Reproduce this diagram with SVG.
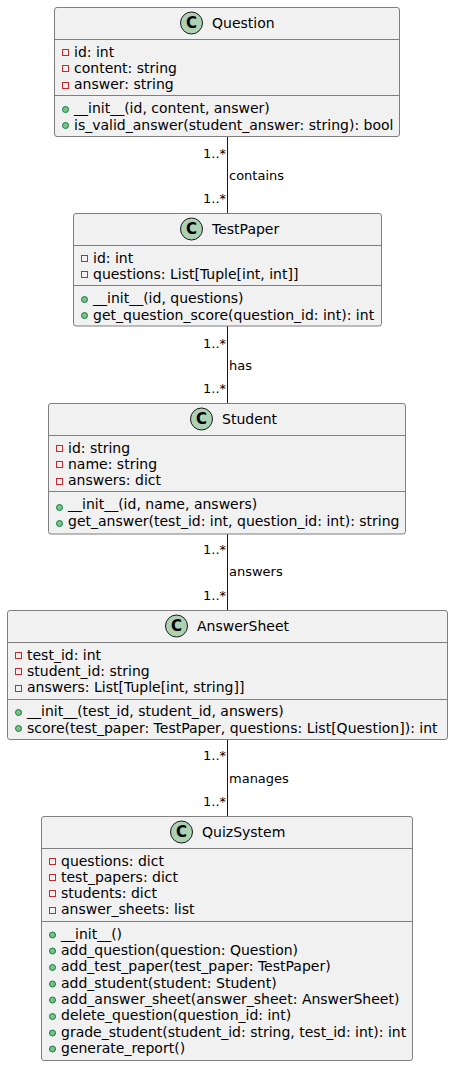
<svg xmlns="http://www.w3.org/2000/svg" width="453" height="1066" viewBox="0 0 453 1066">
<style>
text{font-family:"DejaVu Sans",sans-serif;font-size:14px;fill:#000}
.l{font-size:13px}
.box{fill:#F1F1F1;stroke:#7F7F7F;stroke-width:.5;stroke-width:1}
.sep{stroke:#7F7F7F;stroke-width:1}
.ci{fill:#ADD1B2;stroke:#181818;stroke-width:1}
.c{font-weight:bold;font-size:15px;text-anchor:middle}
.pv{fill:none;stroke:#C82930;stroke-width:1}
.pb{fill:#84BE84;stroke:#038048;stroke-width:1}
.conn{stroke:#181818;stroke-width:1;fill:none}
</style>
<g id="connectors">
<line class="conn" x1="227.5" y1="136" x2="227.5" y2="213"/>
<line class="conn" x1="227.5" y1="326" x2="227.5" y2="403"/>
<line class="conn" x1="227.5" y1="534" x2="227.5" y2="610"/>
<line class="conn" x1="227.5" y1="739" x2="227.5" y2="816"/>
<text class="l" x="229" y="180">contains</text><text class="l" x="203" y="158">1..*</text><text class="l" x="203" y="203">1..*</text>
<text class="l" x="229" y="370">has</text><text class="l" x="203" y="348">1..*</text><text class="l" x="203" y="393">1..*</text>
<text class="l" x="229" y="576">answers</text><text class="l" x="203" y="554">1..*</text><text class="l" x="203" y="600">1..*</text>
<text class="l" x="229" y="783">manages</text><text class="l" x="203" y="760">1..*</text><text class="l" x="203" y="806">1..*</text>
</g>
<g id="Question">
<rect class="box" x="54.5" y="7.5" width="345" height="129" rx="2.5"/>
<circle class="ci" cx="191.5" cy="23" r="11"/><text class="c" x="191.5" y="28">C</text>
<text x="212" y="28">Question</text>
<line class="sep" x1="54.5" y1="39.5" x2="399.5" y2="39.5"/>
<rect class="pv" x="62.5" y="49.5" width="6" height="6"/><text x="74" y="56.5">id: int</text>
<rect class="pv" x="62.5" y="65.5" width="6" height="6"/><text x="74" y="72.5">content: string</text>
<rect class="pv" x="62.5" y="82.5" width="6" height="6"/><text x="74" y="89">answer: string</text>
<line class="sep" x1="54.5" y1="95.5" x2="399.5" y2="95.5"/>
<circle class="pb" cx="65.5" cy="109.5" r="3"/><text x="74" y="113">__init__(id, content, answer)</text>
<circle class="pb" cx="65.5" cy="125.5" r="3"/><text x="74" y="129.5">is_valid_answer(student_answer: string): bool</text>
</g>
<g id="TestPaper">
<rect class="box" x="73.5" y="213.5" width="308" height="112.5" rx="2.5"/>
<circle class="ci" cx="191.5" cy="229" r="11"/><text class="c" x="191.5" y="234">C</text>
<text x="212" y="234">TestPaper</text>
<line class="sep" x1="73.5" y1="245.5" x2="381.5" y2="245.5"/>
<rect class="pv" x="81.5" y="255.5" width="6" height="6"/><text x="93" y="262.5">id: int</text>
<rect class="pv" x="81.5" y="271.5" width="6" height="6"/><text x="93" y="278.5">questions: List[Tuple[int, int]]</text>
<line class="sep" x1="73.5" y1="285.5" x2="381.5" y2="285.5"/>
<circle class="pb" cx="84.5" cy="299.5" r="3"/><text x="93" y="303">__init__(id, questions)</text>
<circle class="pb" cx="84.5" cy="315.5" r="3"/><text x="93" y="319.5">get_question_score(question_id: int): int</text>
</g>
<g id="Student">
<rect class="box" x="48.5" y="403.5" width="357" height="130.5" rx="2.5"/>
<circle class="ci" cx="201.5" cy="419" r="11"/><text class="c" x="201.5" y="424">C</text>
<text x="222" y="424">Student</text>
<line class="sep" x1="48.5" y1="435.5" x2="405.5" y2="435.5"/>
<rect class="pv" x="56.5" y="445.5" width="6" height="6"/><text x="68" y="452.5">id: string</text>
<rect class="pv" x="56.5" y="461.5" width="6" height="6"/><text x="68" y="468.5">name: string</text>
<rect class="pv" x="56.5" y="478.5" width="6" height="6"/><text x="68" y="485">answers: dict</text>
<line class="sep" x1="48.5" y1="491.5" x2="405.5" y2="491.5"/>
<circle class="pb" cx="59.5" cy="507.5" r="3"/><text x="68" y="509">__init__(id, name, answers)</text>
<circle class="pb" cx="59.5" cy="523.5" r="3"/><text x="68" y="525.5">get_answer(test_id: int, question_id: int): string</text>
</g>
<g id="AnswerSheet">
<rect class="box" x="7.5" y="610.5" width="440" height="129" rx="2.5"/>
<circle class="ci" cx="176.5" cy="626" r="11"/><text class="c" x="176.5" y="631">C</text>
<text x="197" y="631">AnswerSheet</text>
<line class="sep" x1="7.5" y1="642.5" x2="447.5" y2="642.5"/>
<rect class="pv" x="15.5" y="652.5" width="6" height="6"/><text x="27" y="659.5">test_id: int</text>
<rect class="pv" x="15.5" y="668.5" width="6" height="6"/><text x="27" y="675.5">student_id: string</text>
<rect class="pv" x="15.5" y="685.5" width="6" height="6"/><text x="27" y="692">answers: List[Tuple[int, string]]</text>
<line class="sep" x1="7.5" y1="699.5" x2="447.5" y2="699.5"/>
<circle class="pb" cx="18.5" cy="712.5" r="3"/><text x="27" y="716">__init__(test_id, student_id, answers)</text>
<circle class="pb" cx="18.5" cy="728.5" r="3"/><text x="27" y="732.5">score(test_paper: TestPaper, questions: List[Question]): int</text>
</g>
<g id="QuizSystem">
<rect class="box" x="41.5" y="816.5" width="371" height="244" rx="2.5"/>
<circle class="ci" cx="181.5" cy="832" r="11"/><text class="c" x="181.5" y="837">C</text>
<text x="202" y="837">QuizSystem</text>
<line class="sep" x1="41.5" y1="848.5" x2="412.5" y2="848.5"/>
<rect class="pv" x="49.5" y="858.5" width="6" height="6"/><text x="61" y="865.5">questions: dict</text>
<rect class="pv" x="49.5" y="874.5" width="6" height="6"/><text x="61" y="881.5">test_papers: dict</text>
<rect class="pv" x="49.5" y="890.5" width="6" height="6"/><text x="61" y="897.5">students: dict</text>
<rect class="pv" x="49.5" y="907.5" width="6" height="6"/><text x="61" y="914">answer_sheets: list</text>
<line class="sep" x1="41.5" y1="921.5" x2="412.5" y2="921.5"/>
<circle class="pb" cx="52.5" cy="935" r="3"/><text x="61" y="938.5">__init__()</text>
<circle class="pb" cx="52.5" cy="951" r="3"/><text x="61" y="955">add_question(question: Question)</text>
<circle class="pb" cx="52.5" cy="967.5" r="3"/><text x="61" y="971">add_test_paper(test_paper: TestPaper)</text>
<circle class="pb" cx="52.5" cy="984" r="3"/><text x="61" y="987.5">add_student(student: Student)</text>
<circle class="pb" cx="52.5" cy="1000" r="3"/><text x="61" y="1004">add_answer_sheet(answer_sheet: AnswerSheet)</text>
<circle class="pb" cx="52.5" cy="1016.5" r="3"/><text x="61" y="1020">delete_question(question_id: int)</text>
<circle class="pb" cx="52.5" cy="1033" r="3"/><text x="61" y="1036.5">grade_student(student_id: string, test_id: int): int</text>
<circle class="pb" cx="52.5" cy="1049" r="3"/><text x="61" y="1053">generate_report()</text>
</g>
</svg>
